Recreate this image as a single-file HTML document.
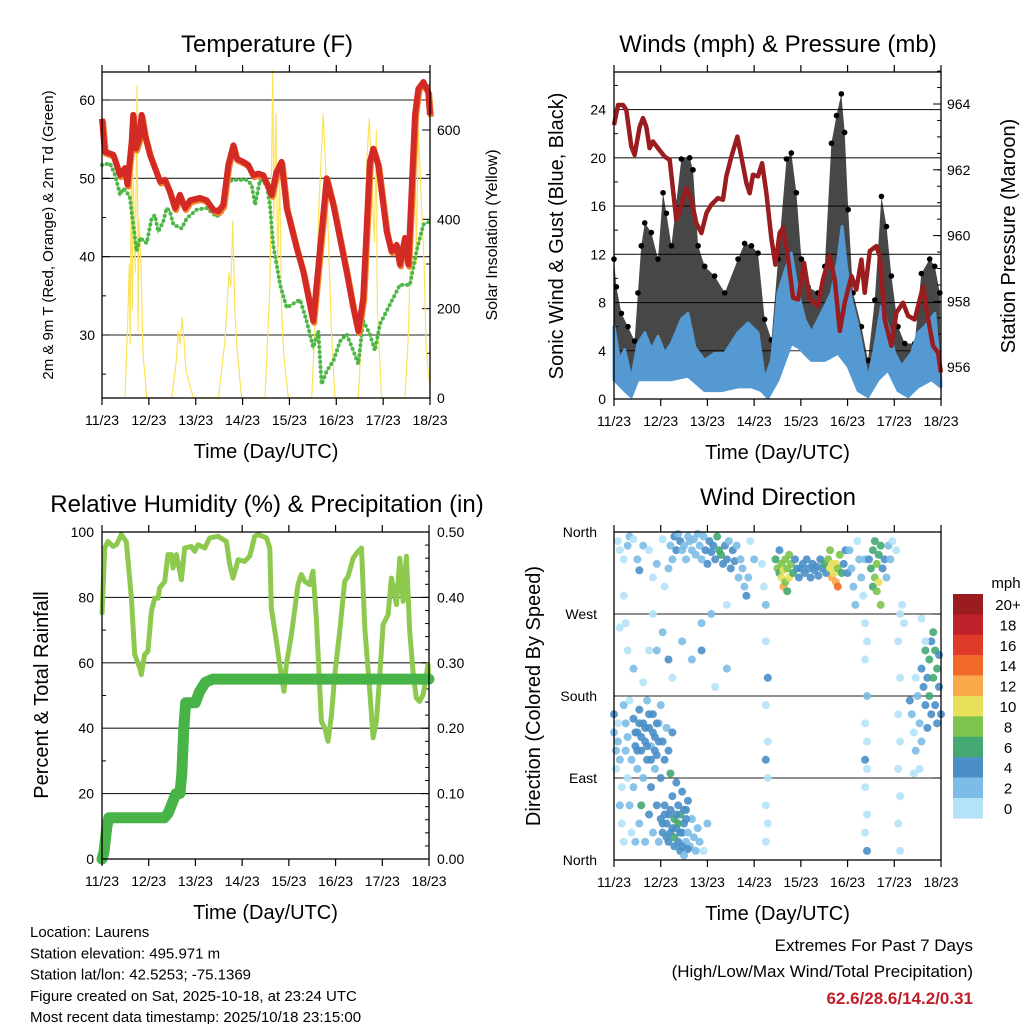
<!DOCTYPE html>
<html><head><meta charset="utf-8">
<style>
html,body{margin:0;padding:0;background:#fff;}
svg{display:block;font-family:"Liberation Sans",Arial,sans-serif;}
</style></head>
<body>
<svg id="svg" width="1024" height="1024" viewBox="0 0 1024 1024"></svg>
<script>
// ---------- DATA ----------
const tempHours=[0,1.5,5.8,9.2,11.8,13,15.2,16,17.4,19.1,20.3,22,24.6,29.7,32.3,34.8,37.4,39.9,42.5,45.1,50.2,53.6,57,59.6,62.1,64.7,67.3,69,72.4,74.9,77.5,80.1,82.6,86.9,89.4,92,94.6,99.7,103.1,108.2,115.1,118.5,125.3,128.7,131.3,133.8,137.2,139,141.5,145.8,148.3,150.9,152.6,155.2,156.9,160.3,162,164.6,167.1,168];
const tempValues=[57.6,53.4,53,50.4,51.3,49.2,54.7,58.1,53.8,55.1,58.1,55.5,53,49.6,49.8,48.3,46.2,47.9,46.2,47.2,47.5,47.2,46,45.8,46.6,51.7,54.2,52.5,52.1,51.7,50.4,50.6,50.4,47.9,50.8,52.1,46.2,41.1,38.1,31.8,50,46.6,38.1,33.5,30.5,34.7,52.1,53.8,51.7,43.2,40.7,41.5,39,42.4,39,58.1,61.4,62.3,61,58.1];
const dewHours=[0,4.1,6.7,9.2,10.9,12.6,14.3,16,17.7,19.5,22.9,25.4,27.1,28.8,31.4,33.1,34.8,36.5,40.8,43.4,48.5,53.6,58.7,62.1,64.7,67.3,74.1,76.6,78.4,80.9,84.3,86,87.7,91.2,94.6,101.4,104.8,108.2,110.8,112.5,115.1,118.5,121.9,125.3,128.7,131.3,133.8,137.2,139.8,142.4,147.5,152.6,157.7,161.1,164.6,168];
const dewValues=[51.7,51.9,50.4,47.9,48.7,48.3,47.5,44.1,40.7,42.4,41.7,44.9,45.3,43.2,44.5,46.2,45.8,44.1,43.6,44.9,46,46.2,45.1,45.8,49.6,49.8,49.8,49.2,46.6,49.8,49.2,46.6,41.5,36.4,33.5,34.5,31.8,28.4,30.5,23.7,25.4,26.7,29.2,30.1,28,26.3,31.8,30.1,28,31.4,33.9,36.4,36.4,40.7,44.1,44.5];
const solarHours=[11.8,13,14,14.5,15,15.5,16,17,18,18.5,19,20,21,22.9,35.7,38,39,40,41,42,43,46.8,59.6,63,65,66,67,68,69,71.5,83.5,86,87.5,88,89,90,91,92,93,95.4,107.4,109,111,113.3,115.5,117.5,119.3,131.3,133,134.5,136,136.9,138,139.5,140.5,141,143.2,155.2,157,159,160.3,161,162,163.5,165,166,168];
const solarValues=[0,150,300,120,600,200,500,280,700,150,400,300,100,0,0,80,150,120,180,130,60,0,0,130,280,250,396,200,120,0,0,250,733,400,636,300,500,200,100,0,0,150,420,636,420,150,0,0,150,400,560,625,500,350,600,200,0,0,150,500,598,300,600,450,300,112,20];
const presHours=[0,2.1,4.6,6.3,8.9,10.6,13.2,14.9,16.6,18.3,20,22.6,26,28.6,32,34.6,37.2,39.7,42.3,44.9,47.5,50,53.4,56,57.7,60.3,63.4,65.4,68,69.7,71.4,74,76.1,78.3,80.9,82.9,85.1,86.8,89.1,92,94.6,97.6,100.6,104.8,107.4,110.8,113.4,116,118.5,122,124.5,127.1,128.8,131.4,134.8,136.5,139.1,142.5,145.1,148.5,151.1,154.5,158.8,161.4,163.9,166.5,167.9];
const presValues=[963.36,963.97,963.97,963.82,962.71,962.45,963.31,963.57,963.31,962.66,962.86,962.66,962.4,962.3,960.48,960.89,961.44,961.09,960.38,960.08,960.69,960.94,961.14,961.09,961.8,962.4,963.01,962.4,961.6,961.29,961.85,961.8,962.2,961.29,959.88,959.12,960.08,960.23,959.47,958.11,958.06,959.17,958.06,957.86,958.67,959.37,958.67,957.1,957.96,958.77,958.36,959.27,958.26,959.53,959.68,959.37,957.45,956.65,957.66,957.96,957.56,957.45,958.46,957.45,956.65,956.44,955.84];
const windHiHours=[0,2.9,5.5,8.9,12.3,15.8,19.2,22.6,26,29.5,34.6,38,41.5,46.6,51.7,56.9,63.7,68.9,74,77.4,80.9,84.3,88.6,91.1,94.6,98,101.4,106.5,111.7,115.1,117.2,119.4,122,125.4,130.5,134,137.4,140.8,144.2,147.7,152.8,156.2,159.7,164.8,167.9];
const windHiValues=[6,3.2,4.1,1.6,4.6,5.5,4.1,5.2,3.8,4.6,6.6,7.1,4.3,3.2,3.8,3.8,5.5,6.3,5.5,1.6,3.2,8.8,11,12.1,8.8,6.6,5.5,7.1,8.8,11.6,14.3,11,8.2,6,1.6,4.3,7.7,6,3.8,2.7,3.8,5.5,6,7.1,1.6];
const windLoHours=[0,5.5,8.9,12.3,19.2,29.5,38,46.6,55.2,63.7,70.6,75.7,79.1,84.3,91.1,94.6,101.4,108.3,115.1,120.3,125.4,130.5,135.7,140.8,145.9,151.1,156.2,163.1,167.9];
const windLoValues=[1.6,0.7,0.2,1.6,1.6,1.6,1.9,0.7,0.7,1,1,0.7,0.1,1.6,4.6,4.3,3.2,3.2,3.8,2.7,0.7,0.2,1.6,2.4,0.7,0.2,1,1.6,1];
const gustHours=[0,1.2,3.8,7.2,10.6,12.3,14,15.8,19.2,22.6,25.2,26.9,29.5,34.6,38.9,40.6,43.2,46.6,51.7,56.9,63.7,67.1,70.6,74,77.4,80.9,84.3,88.6,91.1,93.7,96.3,99.7,104.8,108.3,111.7,114.3,116.8,118.5,120.3,122.8,127.1,130.5,134,137.4,140,142.5,145.9,149.4,154.5,157.9,162.2,164.8,167.4];
const gustValues=[11.6,9.3,7.1,6,4.8,8.8,12.7,14.6,13.8,11.6,17.1,15.4,12.7,19.9,20,19,12.7,11,10.2,8.8,11.6,12.9,12.7,12.1,6.6,4.9,11.6,19.9,20.4,17.1,11.6,9.3,8.8,11,21.2,23.5,25.3,22.1,15.7,8.8,6,3.2,8.2,16.8,14.3,10.2,6,4.6,4.6,10.4,11.6,11,8.8];
const rhHours=[0,1.4,3.1,5.7,7.4,9.9,12.5,15.1,16.8,19.4,20.2,21.9,23.6,25.4,27.1,28.8,29.6,32.2,33.9,35.6,36.5,38.2,40.8,42.5,45.9,47.6,49.3,52.8,55.3,59.6,63.9,65.6,67.3,69.9,73.3,75.9,78.5,80.2,84.5,86.2,87,89.6,91.3,93.5,94.7,97.3,100.7,102.4,104.2,106.7,108.4,110.1,112.7,114.4,116.1,117.9,119.6,122.1,124.7,126.4,129,131.6,133.3,135,137.6,139.3,141,142.7,144.4,147,148.7,151.3,153,154.7,156.4,158.1,159.8,161.5,163.2,165,167.5,168];
const rhValues=[74.7,95.1,97.1,95.6,96.1,99.2,97.1,79.8,62.5,58.4,56.4,62.5,63.5,75.7,79.8,79.8,82.9,84.9,93.1,93.1,89,93.1,85.4,95.1,95.6,94.1,96.1,95.1,98.2,98.7,97.1,90,85.9,91.5,91,92.6,98.7,99.2,98.2,95.1,76.8,66.6,59.4,51.3,59.4,68.6,83.9,87,84.9,83.9,88,73.7,42.1,40.1,36,44.1,56.4,69.6,84.9,86.4,92,94.1,95.1,70.6,51.3,37.1,42.1,56.4,71.7,74.7,85.9,77.8,92,78.8,92.6,69.6,57.4,49.2,48.2,50.3,59.4,54.3];
const precipHours=[0,1,2.5,3.5,32,34,36,38,40,41,42,43,48,50,53,57,168];
const precipValues=[0,0.01,0.05,0.063,0.063,0.07,0.085,0.1,0.1,0.13,0.2,0.239,0.239,0.255,0.27,0.275,0.275];
// wind direction observations: [hour, degrees (0=N,90=E,180=S,270=W), speed mph]
const dirObs=[[2,350,1],[3,340,1],[5,330,1],[7,345,2],[8,355,3],[10,352,1],[12,330,2],[13,318,4],[15,345,2],[18,340,1],[20,310,1],[22,325,2],[25,352,1],[26,300,1],[28,320,2],[29,345,3],[30,330,3],[31,355,5],[32,340,4],[33,358,3],[34,350,4],[35,340,2],[36,345,3],[37,330,3],[38,355,2],[39,350,2],[40,340,3],[41,352,2],[42,335,3],[43,358,2],[44,345,3],[45,330,2],[46,355,3],[47,340,4],[48,325,4],[49,350,4],[50,338,5],[51,345,4],[52,330,4],[53,355,7],[54,340,6],[55,335,7],[56,325,5],[57,345,4],[58,330,4],[59,350,2],[60,320,4],[61,340,4],[62,328,4],[63,345,2],[64,310,2],[65,330,2],[66,320,3],[67,300,3],[68,290,4],[69,310,2],[70,350,1],[72,330,2],
[76,325,1],[77,300,1],[78,280,2],[78,240,1],[79,200,4],[78,170,1],[79,130,1],[78,110,4],[79,90,1],[78,60,1],[79,40,1],[78,20,1],
[83,330,6],[84,320,8],[85,315,6],[85,340,4],[86,325,8],[86,310,10],[87,300,12],[87,318,10],[88,330,8],[88,305,8],[89,320,8],[89,295,6],[90,310,10],[90,335,8],[91,325,8],[92,315,6],[93,330,4],[94,320,4],[95,310,4],
[96,320,4],[97,325,4],[98,315,4],[99,330,4],[100,320,4],[101,310,4],[102,325,4],[103,318,4],[104,322,4],[105,312,5],[106,330,4],[107,320,4],[108,325,6],[109,315,4],
[110,330,8],[111,340,8],[111,320,10],[112,325,10],[112,310,12],[113,315,10],[114,305,12],[114,325,10],[115,320,8],[115,300,14],[116,335,8],[117,315,6],[118,325,4],[119,340,4],[120,315,4],
[121,340,3],[122,320,2],[123,300,2],[124,280,2],[125,350,1],[126,330,2],[127,310,2],[128,290,1],[129,330,2],
[129,260,1],[130,240,1],[129,220,1],[130,180,2],[129,150,1],[130,130,1],[129,110,4],[130,100,1],[129,80,1],[130,50,1],[129,30,1],[130,10,4],
[131,330,4],[132,320,6],[133,340,6],[133,300,6],[134,350,6],[134,310,8],[135,325,8],[135,295,8],[136,335,7],[136,305,10],[137,345,6],[137,280,8],[138,320,4],[139,330,4],[140,310,3],[141,345,2],[142,330,2],[143,350,1],[145,340,1],
[147,270,1],[146,240,1],[147,200,1],[146,160,1],[147,130,1],[146,100,1],[147,70,1],[146,40,1],[147,10,1],[148,280,1],[149,260,1],
[152,175,4],[153,160,2],[154,140,1],[155,200,1],[155,120,2],[156,180,2],[157,150,2],[158,210,4],[158,130,2],[159,190,4],[160,170,4],[160,230,6],[161,200,4],[161,145,4],[162,220,6],[162,180,6],[163,240,4],[163,160,4],[164,250,6],[164,200,6],[165,230,7],[165,170,4],[166,210,6],[166,150,4],[167,190,4],[167,225,4],[168,160,4],[157,100,1],[154,95,1],[160,240,1],[158,265,1],
[0,160,4],[0,140,2],[1,120,2],[1,100,1],[2,130,2],[2,150,1],[3,110,2],[3,60,2],[4,40,1],[4,80,1],[5,170,2],[5,20,1],[6,150,2],[6,120,2],[7,90,1],[7,135,2],[8,175,1],[8,60,2],[9,110,2],[9,30,1],[10,155,4],[10,80,2],[11,125,4],[11,20,2],[12,140,4],[12,100,2],[13,165,4],[13,40,2],[14,120,4],[14,60,6],[15,150,4],[15,90,2],[16,130,4],[16,20,2],[17,110,4],[17,175,2],[18,145,4],[18,50,4],[19,125,2],[19,80,4],[20,160,4],[20,30,2],[21,135,4],[21,100,2],[22,115,4],[22,60,4],[23,150,2],[23,20,2],[24,170,2],[24,90,4],[25,130,4],[25,40,4],[26,110,4],[26,60,4],[27,145,2],[27,25,4],[28,120,4],[28,50,4],[29,95,6],[29,30,4],[30,140,4],[30,70,4],[31,45,6],[31,15,4],[32,85,4],[32,35,4],[33,60,4],[33,20,4],[34,50,6],[34,10,4],[35,75,4],[35,30,4],[36,40,4],[36,5,2],[37,55,4],[37,20,2],[38,30,2],[38,65,4],[39,15,2],[40,45,2],[41,25,2],[42,10,2],[43,35,2],[44,20,2],[46,10,1],[48,40,2],
[20,270,1],[22,230,2],[25,250,2],[28,220,4],[30,200,1],[35,240,2],[40,220,2],[45,260,2],[45,230,4],[50,270,2],[52,190,1],[58,210,2],[58,280,1],[5,290,1],[6,260,1],[7,230,1],[10,210,2],[15,195,1],[18,230,1],[3,255,1],
[11,140,4],[12,120,4],[13,150,4],[14,135,4],[16,145,4],[17,125,4],[18,160,4],[19,110,4],[20,140,4],[21,120,4],[22,150,4],[23,130,4],[24,45,4],[25,30,4],[26,50,4],[27,40,4],[28,20,4],[29,55,4],[30,35,4],[31,25,6],[32,50,4],[33,40,6],[34,30,4],[35,15,4],[36,55,4],[37,45,4],[38,12,4]];
const dayLabels=["11/23","12/23","13/23","14/23","15/23","16/23","17/23","18/23"];
const tempTicks=[30,40,50,60];
const solarTicks=[0,200,400,600];
const spdTicks=[0,4,8,12,16,20,24];
const presTicks=[956,958,960,962,964];
const rhTicks=[0,20,40,60,80,100];
const prTicks=["0.00","0.10","0.20","0.30","0.40","0.50"];
const dirTicks=["North","East","South","West","North"];
const speedBins=["0","2","4","6","8","10","12","14","16","18","20+"];
const speedColors=["#b4e2f8","#7dbce6","#4a8fc8","#44a872","#7cc44e","#e8e05a","#f9a94a","#f26a2a","#e03a2a","#c0202a","#9b1c1f"];

// ---------- HELPERS ----------
const NS="http://www.w3.org/2000/svg";
const svg=document.getElementById('svg');
function mk(tag,attrs,parent){const e=document.createElementNS(NS,tag);for(const k in attrs)e.setAttribute(k,attrs[k]);(parent||svg).appendChild(e);return e;}
function txt(s,x,y,size,anchor,parent,extra){const e=mk('text',Object.assign({x:x,y:y,'font-size':size,'text-anchor':anchor||'middle',fill:'#000'},extra||{}),parent);e.textContent=s;return e;}
function pathFrom(xs,ys,fx,fy){let d='';for(let i=0;i<xs.length;i++)d+=(i?'L':'M')+fx(xs[i]).toFixed(1)+','+fy(ys[i]).toFixed(1);return d;}

function panelFrame(g,x0,x1,y0,y1){
  const r=mk('rect',{x:x0,y:y0,width:x1-x0,height:y1-y0,fill:'none',stroke:'#000','stroke-width':1.3},g);
  
}
function xAxis(g,x0,x1,y0,y1){
  for(let i=0;i<dayLabels.length;i++){
    const x=x0+(x1-x0)*i*24/168;
    mk('line',{x1:x,x2:x,y1:y0-7,y2:y0,stroke:'#000','stroke-width':1.2},g);
    mk('line',{x1:x,x2:x,y1:y1,y2:y1+7,stroke:'#000','stroke-width':1.2},g);
    const t=txt(dayLabels[i],x,y1+27,14,'middle',g);
    
  }
  const t=txt('Time (Day/UTC)',(x0+x1)/2,y1+60,20,'middle',g);
  
}

// ---------- PANEL 1: TEMPERATURE ----------
(function(){
  const g=mk('g',{});
  const x0=102,x1=430,y0=72,y1=398;
  const fx=h=>x0+(x1-x0)*h/168, fy=v=>100+(60-v)*7.833, fs=v=>y1-v*0.4467;
  tempTicks.forEach(v=>{mk('line',{x1:x0,x2:x1,y1:fy(v),y2:fy(v),stroke:'#222','stroke-width':1.1},g);
    mk('line',{x1:x0,x2:x0+8,y1:fy(v),y2:fy(v),stroke:'#000'},g);
    const t=txt(String(v),x0-7,fy(v)+5,14,'end',g);});
  for(let v=25;v<=60;v+=10) mk('line',{x1:x0,x2:x0+4,y1:fy(v),y2:fy(v),stroke:'#000'},g);
  solarTicks.forEach(v=>{mk('line',{x1:x1-8,x2:x1,y1:fs(v),y2:fs(v),stroke:'#000'},g);
    const t=txt(String(v),x1+7,fs(v)+5,14,'start',g);});
  for(let v=100;v<=700;v+=200) mk('line',{x1:x1-4,x2:x1,y1:fs(v),y2:fs(v),stroke:'#000'},g);
  const s=mk('path',{d:pathFrom(solarHours,solarValues,fx,fs),fill:'none',stroke:'#fde35a','stroke-width':1.2,'stroke-linejoin':'round'},g);
  
  const d=mk('path',{d:pathFrom(dewHours,dewValues,fx,fy),fill:'none',stroke:'#4cb748','stroke-width':4,'stroke-dasharray':'0 5','stroke-linecap':'round'},g);
  
  const d2=mk('path',{d:pathFrom(dewHours,dewValues,fx,fy),fill:'none',stroke:'#4cb748','stroke-width':2,opacity:0.6},g);
  
  const o=mk('path',{d:pathFrom(tempHours,tempValues,fx,fy),fill:'none',stroke:'#f4842a','stroke-width':6,transform:'translate(1,2)','stroke-linejoin':'round'},g);
  
  const r=mk('path',{d:pathFrom(tempHours,tempValues,fx,fy),fill:'none',stroke:'#d42a26','stroke-width':6,'stroke-linejoin':'round'},g);
  
  panelFrame(g,x0,x1,y0,y1);xAxis(g,x0,x1,y0,y1);
  let t=txt('Temperature (F)',267,52,24,'middle',g);
  t=txt('2m & 9m T (Red, Orange) & 2m Td (Green)',0,0,15,'middle',g,{transform:'translate(53,235) rotate(-90)'});
  t=txt('Solar Insolation (Yellow)',0,0,16,'middle',g,{transform:'translate(497,235) rotate(-90)'});
})();

// ---------- PANEL 2: WINDS ----------
(function(){
  const g=mk('g',{});
  const x0=614,x1=941,y0=72,y1=399;
  const fx=h=>x0+(x1-x0)*h/168, fy=v=>y1-v*12.06, fp=p=>104+(964-p)*32.9;
  spdTicks.forEach(v=>{ if(v>0) mk('line',{x1:x0,x2:x1,y1:fy(v),y2:fy(v),stroke:'#222','stroke-width':1.1},g);
    const t=txt(String(v),x0-8,fy(v)+5,14,'end',g);});
  for(let v=2;v<=26;v+=4) mk('line',{x1:x0,x2:x0+4,y1:fy(v),y2:fy(v),stroke:'#000'},g);
  presTicks.forEach(v=>{mk('line',{x1:x1-8,x2:x1,y1:fp(v),y2:fp(v),stroke:'#000'},g);
    const t=txt(String(v),x1+6,fp(v)+5,14,'start',g);});
  for(let v=955.5;v<=965;v+=0.5) mk('line',{x1:x1-4,x2:x1,y1:fp(v),y2:fp(v),stroke:'#000'},g);
  let dd=pathFrom(gustHours,gustValues,fx,fy);
  for(let i=windLoHours.length-1;i>=0;i--) dd+='L'+fx(windLoHours[i]).toFixed(1)+','+fy(windLoValues[i]).toFixed(1);
  const gc=mk('path',{d:dd+'Z',fill:'#000',opacity:0.72},g);
  gustHours.forEach((h,i)=>{const c=mk('circle',{cx:fx(h),cy:fy(gustValues[i]),r:2.8,fill:'#000'},g);
    });
  let wd=pathFrom(windHiHours,windHiValues,fx,fy);
  for(let i=windLoHours.length-1;i>=0;i--) wd+='L'+fx(windLoHours[i]).toFixed(1)+','+fy(windLoValues[i]).toFixed(1);
  const wb=mk('path',{d:wd+'Z',fill:'#5599d2',stroke:'#5599d2','stroke-width':3,'stroke-linejoin':'round'},g);
  
  const p=mk('path',{d:pathFrom(presHours,presValues,fx,fp),fill:'none',stroke:'#9b1c1f','stroke-width':4.5,'stroke-linejoin':'round'},g);
  
  panelFrame(g,x0,x1,y0,y1);xAxis(g,x0,x1,y0,y1);
  let t=txt('Winds (mph) & Pressure (mb)',778,52,24,'middle',g);
  t=txt('Sonic Wind & Gust (Blue, Black)',0,0,20,'middle',g,{transform:'translate(563,236) rotate(-90)'});
  t=txt('Station Pressure (Maroon)',0,0,20,'middle',g,{transform:'translate(1015,236) rotate(-90)'});
})();

// ---------- PANEL 3: RH & PRECIP ----------
(function(){
  const g=mk('g',{});
  const x0=102,x1=429,y0=532,y1=859;
  const fx=h=>x0+(x1-x0)*h/168, fy=v=>y1-v*3.27, fq=v=>y1-v*654;
  rhTicks.forEach(v=>{ if(v>0&&v<100) mk('line',{x1:x0,x2:x1,y1:fy(v),y2:fy(v),stroke:'#222','stroke-width':1.1},g);
    const t=txt(String(v),x0-8,fy(v)+5,14,'end',g);});
  for(let v=10;v<100;v+=20) mk('line',{x1:x0,x2:x0+4,y1:fy(v),y2:fy(v),stroke:'#000'},g);
  prTicks.forEach(s=>{const v=parseFloat(s);mk('line',{x1:x1-8,x2:x1,y1:fq(v),y2:fq(v),stroke:'#000'},g);
    const t=txt(s,x1+8,fq(v)+5,14,'start',g);});
  for(let v=0.02;v<0.5;v+=0.02) mk('line',{x1:x1-4,x2:x1,y1:fq(v),y2:fq(v),stroke:'#000'},g);
  const rl=mk('path',{d:pathFrom(rhHours,rhValues,fx,fy),fill:'none',stroke:'#8dc94f','stroke-width':5,'stroke-linejoin':'round'},g);
  
  const pl=mk('path',{d:pathFrom(precipHours,precipValues,fx,fq),fill:'none',stroke:'#48b448','stroke-width':11,'stroke-linejoin':'round','stroke-linecap':'round'},g);
  
  panelFrame(g,x0,x1,y0,y1);xAxis(g,x0,x1,y0,y1);
  let t=txt('Relative Humidity (%) & Precipitation (in)',267,512,24,'middle',g);
  t=txt('Percent & Total Rainfall',0,0,20,'middle',g,{transform:'translate(48,695) rotate(-90)'});
})();

// ---------- PANEL 4: WIND DIRECTION ----------
(function(){
  const g=mk('g',{});
  const x0=614,x1=941,y0=532,y1=860;
  const fx=h=>x0+(x1-x0)*h/168, fy=d=>y1-d*0.9111;
  dirTicks.forEach((s,i)=>{const y=fy(i*90); if(i>0&&i<4) mk('line',{x1:x0,x2:x1,y1:y,y2:y,stroke:'#222','stroke-width':1.1},g);
    mk('line',{x1:x1-8,x2:x1,y1:y,y2:y,stroke:'#000'},g);
    const t=txt(s,x0-17,y+5,14,'end',g);});
  dirObs.forEach(o=>{const bi=Math.min(10,Math.floor(o[2]/2));
    const c=mk('circle',{cx:fx(o[0]),cy:fy(o[1]),r:4,fill:speedColors[bi],opacity:0.9},g);
    });
  panelFrame(g,x0,x1,y0,y1);xAxis(g,x0,x1,y0,y1);
  let t=txt('Wind Direction',778,505,24,'middle',g);
  t=txt('Direction (Colored By Speed)',0,0,20,'middle',g,{transform:'translate(540,696) rotate(-90)'});
  const lg=mk('g',{},g);
  t=txt('mph',1006,588,15,'middle',lg);
  for(let i=0;i<speedBins.length;i++){
    const k=speedBins.length-1-i, y=594+i*20.4;
    const r=mk('rect',{x:953,y:y,width:30,height:20.6,fill:speedColors[k]},lg);
    
    const l=txt(speedBins[k],1008,y+16,15,'middle',lg);
  }
})();

// ---------- FOOTER ----------
(function(){
  const g=mk('g',{});
  const lines=["Location: Laurens","Station elevation: 495.971 m","Station lat/lon: 42.5253; -75.1369","Figure created on Sat, 2025-10-18, at 23:24 UTC","Most recent data timestamp: 2025/10/18 23:15:00"];
  lines.forEach((s,i)=>{const t=txt(s,30,937+i*21.3,15,'start',g);});
  const e=mk('g',{});
  let t=txt('Extremes For Past 7 Days',973,951,17,'end',e);
  t=txt('(High/Low/Max Wind/Total Precipitation)',973,977,17,'end',e);
  t=txt('62.6/28.6/14.2/0.31',973,1004,17,'end',e,{fill:'#c0202a','font-weight':'bold'});
})();
</script>
</body></html>
